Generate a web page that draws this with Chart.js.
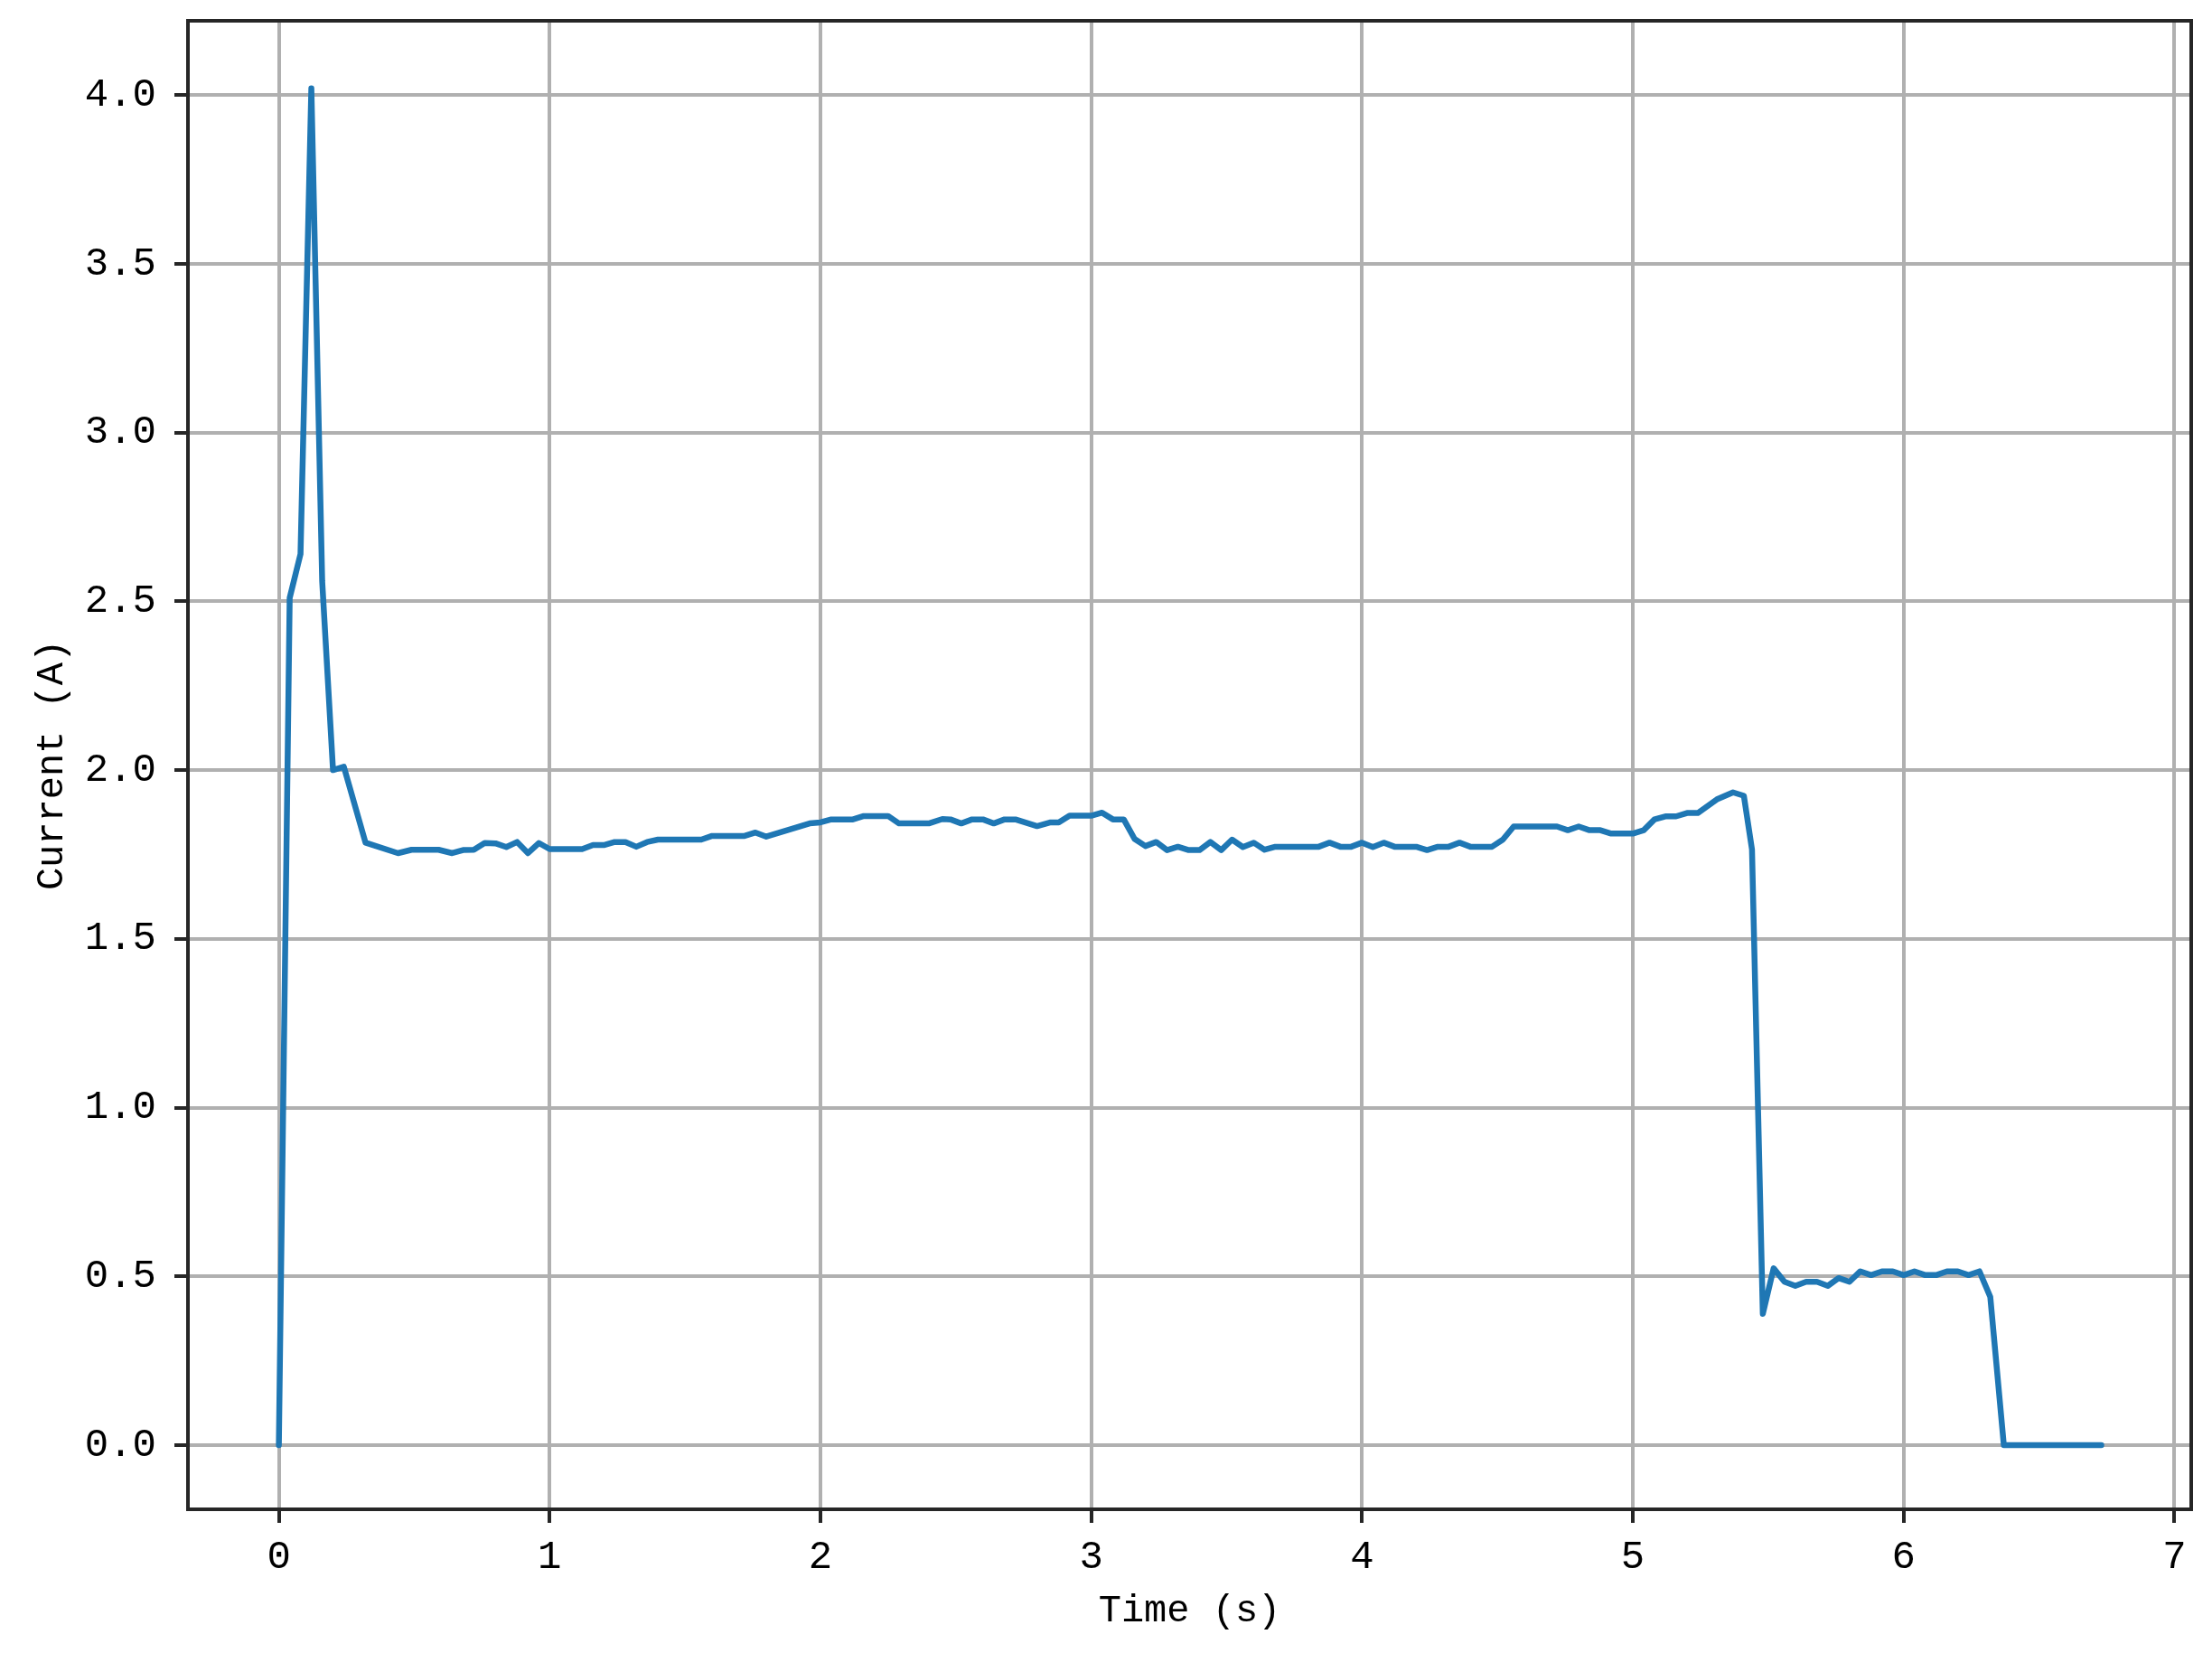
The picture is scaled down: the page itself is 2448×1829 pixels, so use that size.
<!DOCTYPE html>
<html>
<head>
<meta charset="utf-8">
<script src="https://cdn.jsdelivr.net/npm/chart.js@4.4.1/dist/chart.umd.min.js"></script>
<style>
  html, body { margin: 0; padding: 0; background: #fff; }
  canvas { display: block; }
</style>
</head>
<body>
<canvas id="chart" width="2448" height="1829"></canvas>
<script>
// values
const timeS = [
  0.00, 0.04, 0.08, 0.12, 0.16, 0.20, 0.24, 0.32, 0.44, 0.49,
  0.59, 0.64, 0.68, 0.72, 0.76, 0.80, 0.84, 0.88, 0.92, 0.96,
  1.00, 1.12, 1.16, 1.20, 1.24, 1.28, 1.32, 1.36, 1.40, 1.56,
  1.60, 1.72, 1.76, 1.80, 1.96, 2.00, 2.04, 2.12, 2.16, 2.25,
  2.29, 2.40, 2.45, 2.48, 2.52, 2.56, 2.60, 2.64, 2.68, 2.72,
  2.80, 2.85, 2.88, 2.92, 3.00, 3.04, 3.08, 3.12, 3.16, 3.20,
  3.24, 3.28, 3.32, 3.36, 3.40, 3.44, 3.48, 3.52, 3.56, 3.60,
  3.64, 3.68, 3.84, 3.88, 3.92, 3.96, 4.00, 4.04, 4.08, 4.12,
  4.20, 4.24, 4.28, 4.32, 4.36, 4.40, 4.48, 4.52, 4.56, 4.72,
  4.76, 4.80, 4.84, 4.88, 4.92, 5.00, 5.04, 5.08, 5.12, 5.16,
  5.20, 5.24, 5.31, 5.37, 5.41, 5.44, 5.48, 5.52, 5.56, 5.60,
  5.64, 5.68, 5.72, 5.76, 5.80, 5.84, 5.88, 5.92, 5.96, 6.00,
  6.04, 6.08, 6.12, 6.16, 6.20, 6.24, 6.28, 6.32, 6.37, 6.73
];
const currentA = [
  0.00, 2.51, 2.64, 4.02, 2.56, 2.00, 2.01, 1.785, 1.754, 1.764,
  1.764, 1.754, 1.763, 1.764, 1.784, 1.783, 1.772, 1.787, 1.754, 1.784,
  1.766, 1.766, 1.778, 1.778, 1.787, 1.787, 1.773, 1.787, 1.794, 1.794,
  1.805, 1.805, 1.815, 1.803, 1.842, 1.845, 1.854, 1.854, 1.864, 1.864,
  1.842, 1.842, 1.855, 1.854, 1.842, 1.854, 1.854, 1.842, 1.854, 1.854,
  1.834, 1.845, 1.845, 1.865, 1.865, 1.874, 1.854, 1.854, 1.796, 1.775,
  1.787, 1.763, 1.773, 1.763, 1.763, 1.787, 1.763, 1.794, 1.772, 1.785,
  1.764, 1.773, 1.773, 1.785, 1.773, 1.773, 1.785, 1.772, 1.785, 1.773,
  1.773, 1.763, 1.773, 1.773, 1.785, 1.773, 1.773, 1.794, 1.833, 1.833,
  1.822, 1.833, 1.822, 1.822, 1.812, 1.812, 1.822, 1.854, 1.863, 1.863,
  1.873, 1.873, 1.913, 1.934, 1.924, 1.765, 0.389, 0.524, 0.484, 0.472,
  0.484, 0.484, 0.472, 0.495, 0.484, 0.515, 0.504, 0.515, 0.515, 0.504,
  0.515, 0.504, 0.504, 0.515, 0.515, 0.504, 0.515, 0.439, 0.00, 0.00
];
const xTicks = [0, 1, 2, 3, 4, 5, 6, 7];
const yTicks = [0, 0.5, 1.0, 1.5, 2.0, 2.5, 3.0, 3.5, 4.0];
const xLabel = 'Time (s)';
const yLabel = 'Current (A)';

const FONT = '"Liberation Mono", "DejaVu Sans Mono", monospace';
const SPINE = 4;
const SPINE_COLOR = '#262626';

// matplotlib-style box around the axes
const framePlugin = {
  id: 'frame',
  afterDraw(chart) {
    const { ctx, chartArea: a } = chart;
    ctx.save();
    ctx.strokeStyle = SPINE_COLOR;
    ctx.lineWidth = SPINE;
    ctx.strokeRect(a.left, a.top, a.right - a.left, a.bottom - a.top);
    ctx.restore();
  }
};

const points = timeS.map((t, i) => ({ x: t, y: currentA[i] }));

const gridOpts = {
  color: '#b0b0b0',
  lineWidth: 4,
  drawTicks: true,
  tickLength: 15,
  tickColor: SPINE_COLOR,
  tickWidth: SPINE
};

new Chart(document.getElementById('chart'), {
  type: 'line',
  data: {
    datasets: [{
      data: points,
      borderColor: '#1f77b4',
      borderWidth: 6.5,
      pointRadius: 0,
      tension: 0,
      fill: false,
      borderJoinStyle: 'round',
      borderCapStyle: 'round'
    }]
  },
  options: {
    responsive: false,
    animation: false,
    devicePixelRatio: 1,
    layout: { padding: { top: 23, right: 23, left: 0, bottom: 0 } },
    plugins: { legend: { display: false }, tooltip: { enabled: false } },
    scales: {
      x: {
        type: 'linear',
        min: -0.3357,
        max: 7.062,
        afterBuildTicks: s => { s.ticks = xTicks.map(v => ({ value: v })); },
        afterFit: s => { s.height = 159; s.paddingLeft = 0; s.paddingRight = 0; },
        ticks: {
          color: '#000',
          font: { family: FONT, size: 44 },
          padding: 12,
          maxRotation: 0,
          callback: v => String(v)
        },
        grid: gridOpts,
        border: { display: false },
        title: {
          display: true,
          text: xLabel,
          color: '#000',
          font: { family: FONT, size: 42 },
          padding: { top: 0, bottom: 21 }
        }
      },
      y: {
        type: 'linear',
        min: -0.19,
        max: 4.22,
        afterBuildTicks: s => { s.ticks = yTicks.map(v => ({ value: v })); },
        afterFit: s => { s.width = 208; s.paddingTop = 0; s.paddingBottom = 0; },
        ticks: {
          color: '#000',
          font: { family: FONT, size: 44 },
          padding: 20,
          callback: v => v.toFixed(1)
        },
        grid: gridOpts,
        border: { display: false },
        title: {
          display: true,
          text: yLabel,
          color: '#000',
          font: { family: FONT, size: 42 },
          padding: { top: 33, bottom: 0 }
        }
      }
    }
  },
  plugins: [framePlugin]
});
</script>
</body>
</html>
